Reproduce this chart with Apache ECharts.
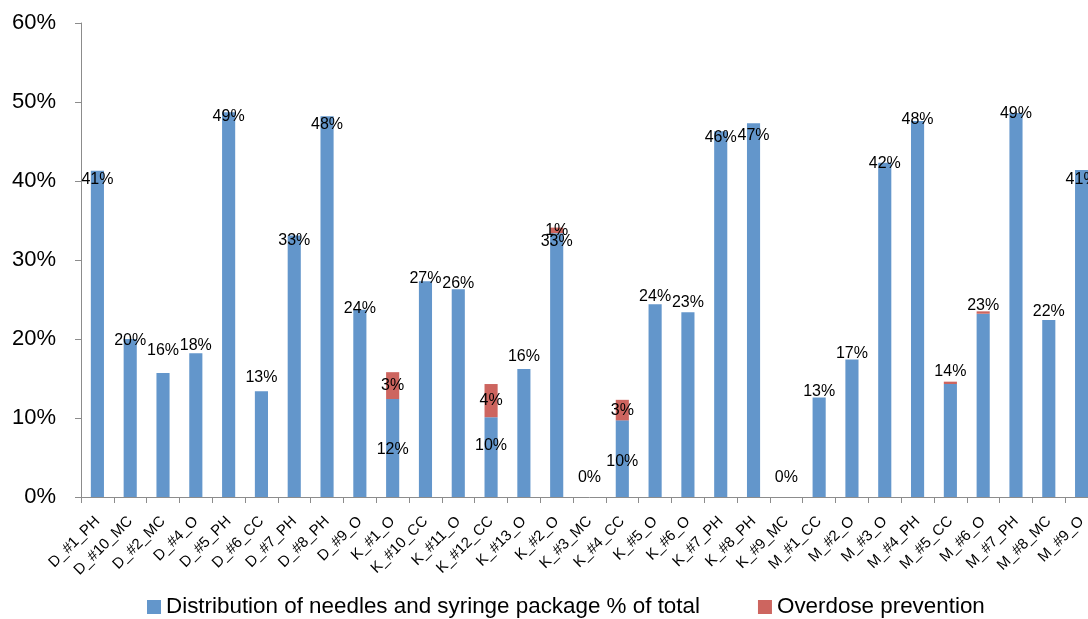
<!DOCTYPE html>
<html><head><meta charset="utf-8">
<script src="https://cdn.jsdelivr.net/npm/echarts@6/dist/echarts.min.js"></script>
<style>html,body{margin:0;padding:0;background:#fff;overflow:hidden;width:1088px;height:619px}#c{width:1098px;height:619px}</style>
</head><body><div id="c"></div>
<script>
var categories = ["D_#1_PH","D_#10_MC","D_#2_MC","D_#4_O","D_#5_PH","D_#6_CC","D_#7_PH","D_#8_PH","D_#9_O","K_#1_O","K_#10_CC","K_#11_O","K_#12_CC","K_#13_O","K_#2_O","K_#3_MC","K_#4_CC","K_#5_O","K_#6_O","K_#7_PH","K_#8_PH","K_#9_MC","M_#1_CC","M_#2_O","M_#3_O","M_#4_PH","M_#5_CC","M_#6_O","M_#7_PH","M_#8_MC","M_#9_O"];
var needles = [41.3,20.0,15.7,18.2,48.7,13.4,33.1,48.2,23.7,12.4,27.3,26.3,10.1,16.2,33.4,0,9.7,24.4,23.4,46.3,47.3,0,12.6,17.4,42.3,47.6,14.3,23.2,48.6,22.4,41.4];
var overdose = [0,0,0,0,0,0,0,0,0,3.4,0,0,4.2,0,0.7,0,2.6,0,0,0,0,0,0,0,0,0,0.3,0.3,0,0,0];
var yTicks = [0,10,20,30,40,50,60];

// label placement (style only): vertical shift of label centre relative to bar top
var labelDy = [8,1,-23,-9,3,-15,4,7,-2,null,-4,-7,null,-13,7,-20,null,-9,-11,5,11,-20,-7,-7,0,-2,-13,-9,0,-9,9];
var insideDy = {9:2,12:-12,16:3};

var FONT = '"Liberation Sans", Arial, sans-serif';
var blueData = needles.map(function(v,i){
  var lab;
  if (labelDy[i] === null) {
    lab = {position:'inside', offset:[0, insideDy[i]||0]};
  } else {
    lab = {position:'top', distance:0, offset:[0, labelDy[i]+9]};
  }
  return {value:v, label:lab};
});
var chart = echarts.init(document.getElementById('c'));
chart.setOption({
  animation:false,
  textStyle:{fontFamily:FONT},
  grid:{left:81, right:0, top:23, bottom:122, containLabel:false},
  legend:{
    left:142, bottom:-4, icon:'rect', itemWidth:14, itemHeight:14, itemGap:58,
    textStyle:{fontSize:22.4, color:'#000', fontFamily:FONT},
    data:['Distribution of needles and syringe package % of total','Overdose prevention']
  },
  xAxis:{
    type:'category', data:categories,
    axisLine:{lineStyle:{color:'#8c8c8c', width:1}},
    axisTick:{show:true, interval:0, length:6, lineStyle:{color:'#8c8c8c'}},
    axisLabel:{interval:0, rotate:45, fontSize:15, color:'#000', margin:22, fontFamily:FONT}
  },
  yAxis:{
    type:'value', min:yTicks[0], max:yTicks[yTicks.length-1], interval:10,
    splitLine:{show:false},
    axisLine:{show:true, lineStyle:{color:'#8c8c8c', width:1}},
    axisTick:{show:true, length:6, lineStyle:{color:'#8c8c8c'}},
    axisLabel:{formatter:'{value}%', fontSize:22, color:'#000', margin:25, fontFamily:FONT}
  },
  series:[
    {
      name:'Distribution of needles and syringe package % of total',
      type:'bar', stack:'s', barWidth:'40%', data:blueData,
      itemStyle:{color:'#6396cb'},
      label:{show:true, fontSize:16, color:'#000', fontFamily:FONT,
        formatter:function(p){return Math.round(p.value)+'%';}}
    },
    {
      name:'Overdose prevention',
      type:'bar', stack:'s', barWidth:'40%', data:overdose,
      itemStyle:{color:'#cd655f'},
      label:{show:true, position:'inside', fontSize:16, color:'#000', fontFamily:FONT,
        formatter:function(p){return p.value>=0.5 ? Math.round(p.value)+'%' : '';}}
    }
  ]
});
</script></body></html>
